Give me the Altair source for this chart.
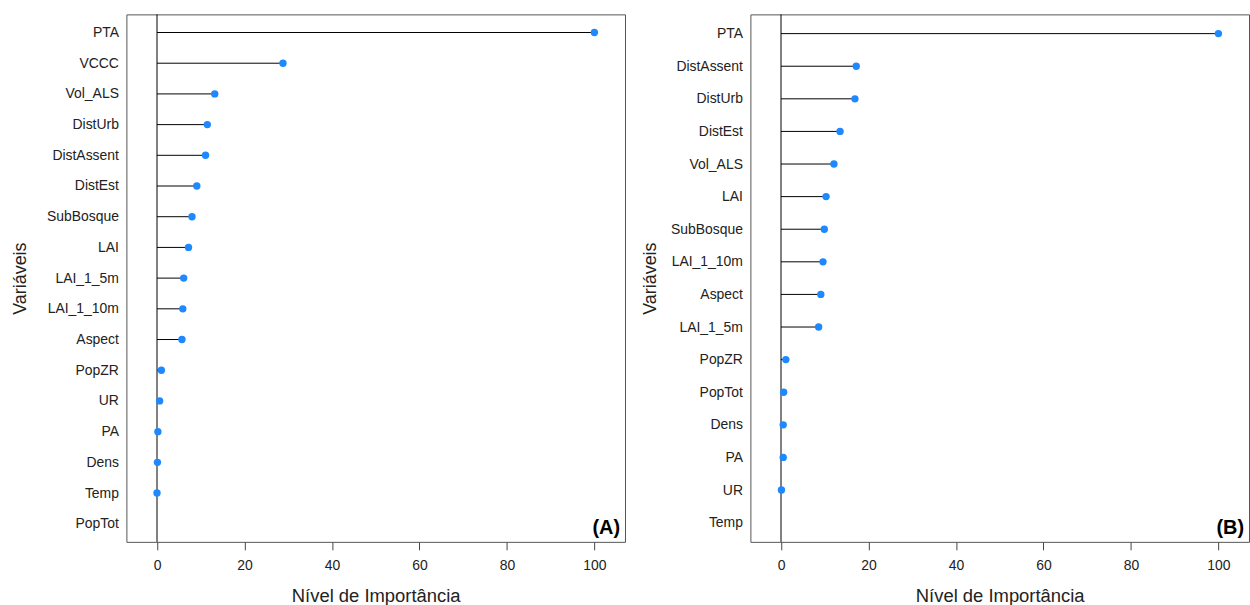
import altair as alt
import pandas as pd

vars_a = ["PTA", "VCCC", "Vol_ALS", "DistUrb", "DistAssent", "DistEst", "SubBosque", "LAI",
          "LAI_1_5m", "LAI_1_10m", "Aspect", "PopZR", "UR", "PA", "Dens", "Temp", "PopTot"]
imp_a = [100, 28.8, 13.2, 11.5, 11.1, 9.1, 8.0, 7.2, 6.1, 5.9, 5.7, 1.0, 0.6, 0.2, 0.1, 0.0, None]

vars_b = ["PTA", "DistAssent", "DistUrb", "DistEst", "Vol_ALS", "LAI", "SubBosque", "LAI_1_10m",
          "Aspect", "LAI_1_5m", "PopZR", "PopTot", "Dens", "PA", "UR", "Temp"]
imp_b = [100, 17.2, 16.9, 13.5, 12.1, 10.3, 9.9, 9.6, 9.1, 8.6, 1.1, 0.6, 0.5, 0.5, 0.1, None]

x_ticks = [0, 20, 40, 60, 80, 100]
panel_tags = ["(A)", "(B)"]

FONT = "Liberation Sans"
W, H = 501, 530
DOT = "#1E88FF"


def panel(names, values, tag, title_x):
    df = pd.DataFrame({"var": names, "imp": values})
    df = df.dropna().reset_index(drop=True)
    df["zero"] = 0.0

    xscale = alt.Scale(domain=[-7, 107], nice=False, zero=False)
    xaxis = alt.Axis(title="Nível de Importância", values=x_ticks, grid=False, domain=False,
                     tickSize=8, tickColor="#444", tickWidth=1, labelFontSize=14,
                     labelColor="#222", labelFont=FONT, labelPadding=9,
                     titleFont=FONT, titleFontSize=18.5, titleFontWeight="normal",
                     titleColor="#222", titlePadding=14)
    yscale = alt.Scale(type="point", domain=names, padding=0.59)
    yaxis = alt.Axis(title="Variáveis", ticks=False, domain=False, grid=False,
                     labelPadding=8, labelFontSize=14, labelColor="#222", labelFont=FONT,
                     titleFont=FONT, titleFontSize=18, titleFontWeight="normal",
                     titleColor="#222", titleAngle=270, titleX=title_x, titleY=H / 2,
                     titleAlign="center", titleBaseline="middle")

    y = alt.Y("var:N", scale=yscale, axis=yaxis, sort=names)

    stems = alt.Chart(df).mark_rule(color="black", strokeWidth=1).encode(
        x=alt.X("zero:Q", scale=xscale, axis=xaxis),
        x2="imp:Q",
        y=y,
    )
    dots = alt.Chart(df).mark_circle(color=DOT, opacity=1, size=55).encode(
        x=alt.X("imp:Q", scale=xscale, axis=xaxis),
        y=y,
    )
    zero_line = alt.Chart(pd.DataFrame({"z": [0.0]})).mark_rule(color="black", strokeWidth=1).encode(
        x=alt.X("z:Q", scale=xscale, axis=xaxis),
    )
    label = alt.Chart(pd.DataFrame({"t": [tag]})).mark_text(
        align="right", baseline="alphabetic", font=FONT, fontSize=20, fontWeight="bold",
        color="black",
    ).encode(text="t:N", x=alt.value(W - 5), y=alt.value(H - 8))

    return alt.layer(zero_line, stems, dots, label).properties(width=W, height=H)


chart = alt.hconcat(
    panel(vars_a, imp_a, panel_tags[0], -106),
    panel(vars_b, imp_b, panel_tags[1], -100),
    spacing=15,
).properties(
    padding={"left": 11, "top": 12, "right": 0, "bottom": 0},
    background="white",
).configure_view(stroke="#555", strokeWidth=1)

chart.save("out.html", embed_options={"renderer": "svg", "actions": False})
